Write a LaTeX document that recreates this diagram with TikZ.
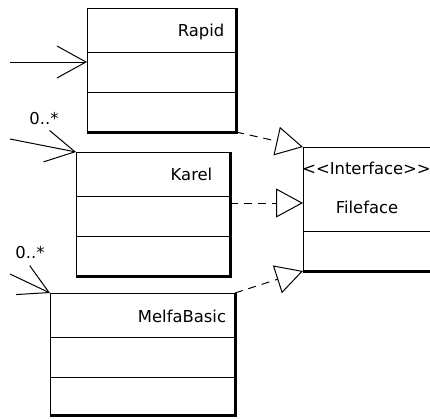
\documentclass[tikz,border=0pt]{standalone}
\usepackage{fontspec}
\setmainfont{DejaVu Sans}
\usetikzlibrary{arrows.meta}

\tikzset{
  cls/.style={draw, rectangle, line width=1pt, inner sep=0pt, outer sep=0pt, anchor=north west},
  clsname/.style={font=\fontsize{16.4}{19}\selectfont, inner sep=0pt, anchor=base},
  thickedge/.style={line width=3pt},
  assoc/.style={line width=1pt, -{Straight Barb[length=29pt,width=32pt]}},
  real/.style={line width=1pt, dash pattern=on 8pt off 6pt, -{Triangle[open,length=27pt,width=29pt]}},
}

\begin{document}
\begin{tikzpicture}[x=1pt, y=-1pt]
		\clip (0,0) rectangle (430,418);
		\fill[white] (0,0) rectangle (430,418);
		
		% classes: name, attributes, operations
		\node[cls, minimum width=149pt, minimum height=44pt] (rapid) at (87,8) {};
		\node[cls, minimum width=149pt, minimum height=40pt] (rapid-a) at (rapid.south west) {};
		\node[cls, minimum width=149pt, minimum height=40pt] (rapid-o) at (rapid-a.south west) {};
		\node[clsname] (rapid-t) at (201,36) {Rapid};
		
		\node[cls, minimum width=154pt, minimum height=44pt] (karel) at (76,152) {};
		\node[cls, minimum width=154pt, minimum height=40pt] (karel-a) at (karel.south west) {};
		\node[cls, minimum width=154pt, minimum height=40pt] (karel-o) at (karel-a.south west) {};
		\node[clsname] (karel-t) at (191.5,180) {Karel};
		
		\node[cls, minimum width=185pt, minimum height=44pt] (melfa) at (50,293) {};
		\node[cls, minimum width=185pt, minimum height=40pt] (melfa-a) at (melfa.south west) {};
		\node[cls, minimum width=185pt, minimum height=38pt] (melfa-o) at (melfa-a.south west) {};
		\node[clsname] (melfa-t) at (182,322) {MelfaBasic};
		
		\node[cls, minimum width=140pt, minimum height=84pt] (face) at (303,147) {};
		\node[cls, minimum width=140pt, minimum height=40pt] (face-a) at (face.south west) {};
		\node[clsname] (face-s) at (366.5,174) {<\kern0pt<Interface>\kern0pt>};
		\node[clsname] (face-t) at (367,213) {Fileface};
		
		% shadow edges
		\draw[thickedge] (rapid.north east) -- (rapid-o.south east) -- (rapid-o.south west);
		\draw[thickedge] (karel.north east) -- (karel-o.south east) -- (karel-o.south west);
		\draw[thickedge] (melfa.north east) -- (melfa-o.south east) -- (melfa-o.south west);
		\draw[thickedge] (face-a.south west) -- (face-a.south east);
		
		% incoming associations
		\coordinate (in-r) at (10,62);
		\coordinate (in-k) at (10,139);
		\coordinate (in-m) at (10,274);
		\draw[assoc] (in-r) -- ([yshift=-10pt]rapid-a.north west);
		\draw[assoc] (in-k) -- (karel.north west);
		\draw[assoc] (in-m) -- (melfa.north west);
		\node[clsname] (mult-k) at (44,124) {0..*};
		\node[clsname] (mult-m) at (30,258) {0..*};
		
		% realizations of the interface
		\draw[real] (rapid-o.south east) -- (face.north west);
		\draw[real] ([yshift=-7pt]karel-a.north east) -- ([yshift=-14pt]face.west);
		\draw[real] (melfa.north east) -- (face-a.south west);
\end{tikzpicture}
\end{document}
